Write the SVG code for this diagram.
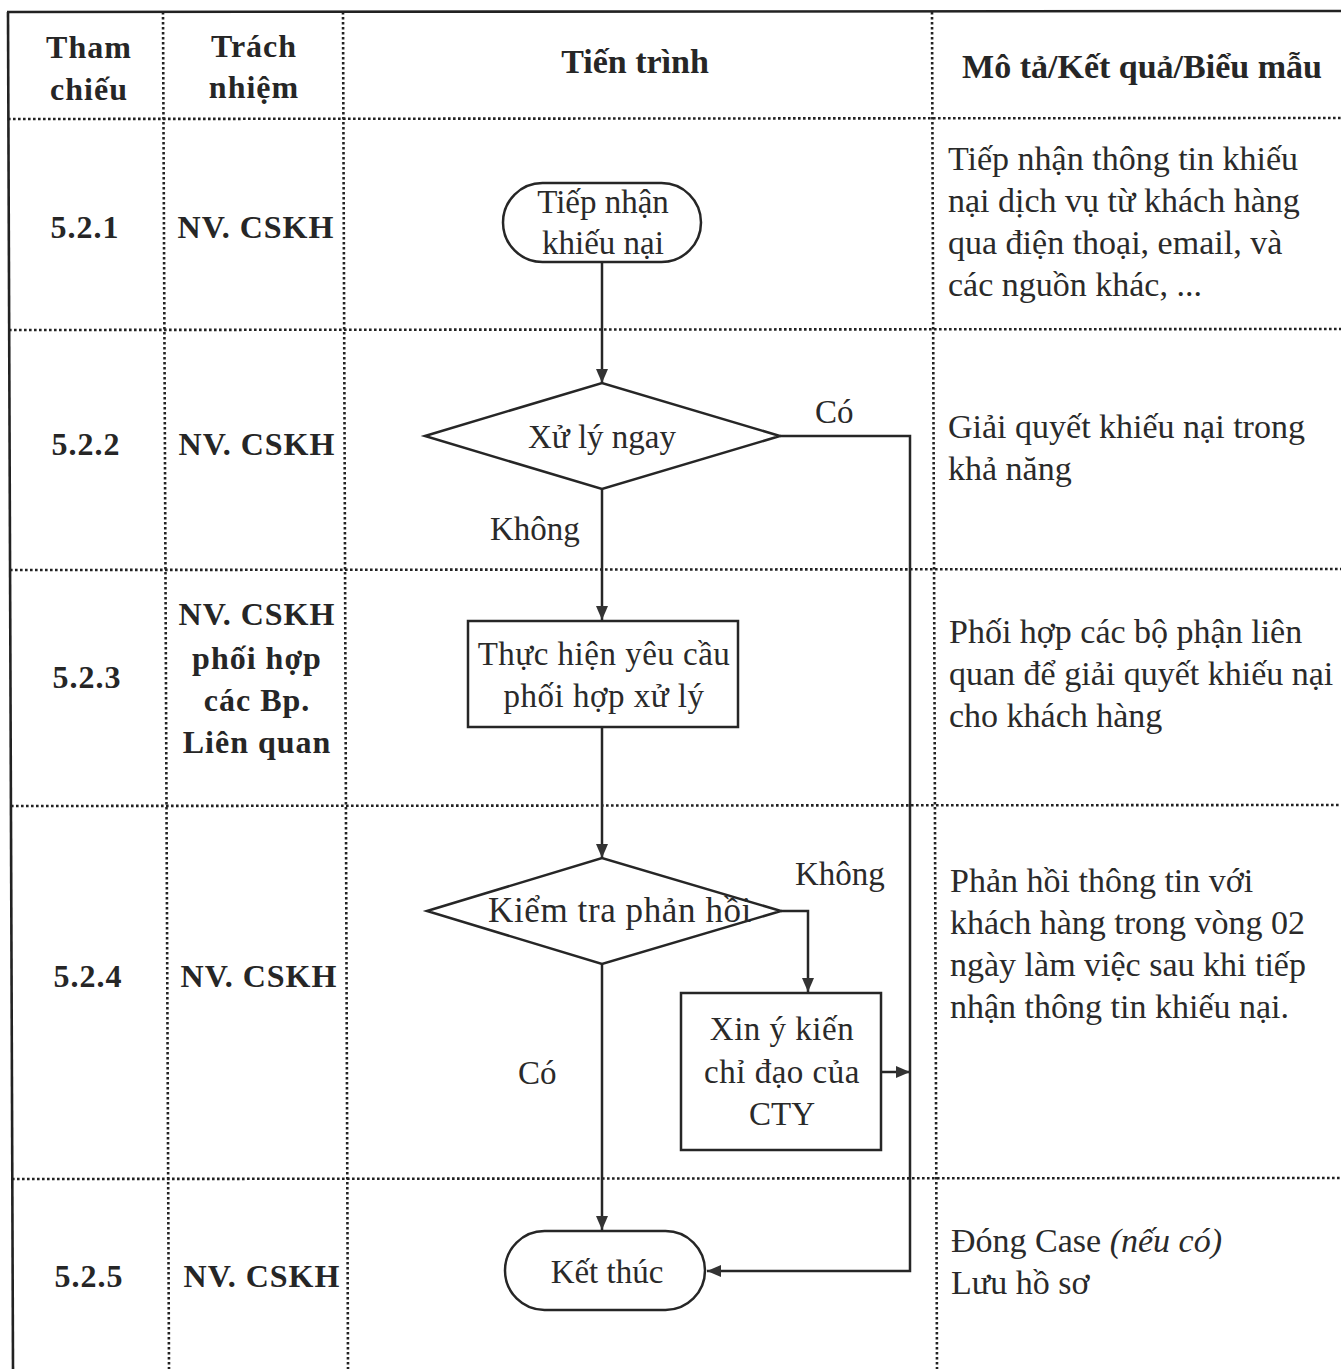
<svg xmlns="http://www.w3.org/2000/svg" width="1341" height="1369" viewBox="0 0 1341 1369">
<style>
.grid{stroke:#222;stroke-width:2.6;stroke-dasharray:2.6 2.4;fill:none}
.solid{stroke:#222;stroke-width:2.6;fill:none}
.b{font-family:"Liberation Serif","Times New Roman",serif;font-weight:bold;font-size:32px;fill:#262626;letter-spacing:1px}
.h{font-family:"Liberation Serif","Times New Roman",serif;font-weight:bold;font-size:34px;fill:#262626}
.t{font-family:"Liberation Serif","Times New Roman",serif;font-size:34px;fill:#2a2a2a}
.f{font-family:"Liberation Serif","Times New Roman",serif;font-size:33px;fill:#2a2a2a}
.node{fill:#fff;stroke:#262626;stroke-width:2.5}
.edge{fill:none;stroke:#262626;stroke-width:2.5}
.mid{text-anchor:middle}
</style>
<defs>
<marker id="arr" viewBox="0 0 14 12" refX="14" refY="6" markerWidth="14" markerHeight="12" markerUnits="userSpaceOnUse" orient="auto">
<path d="M0,0 L14,6 L0,12 Z" fill="#333"/>
</marker>
</defs>
<rect width="1341" height="1369" fill="#fff"/>

<g id="table">
<line class="solid" x1="7" y1="12" x2="1341" y2="11"/>
<line class="solid" x1="8" y1="12" x2="13" y2="1369"/>
<line class="grid" x1="163" y1="12" x2="169" y2="1369"/>
<line class="grid" x1="343" y1="12" x2="348" y2="1369"/>
<line class="grid" x1="932" y1="12" x2="937" y2="1369"/>
<line class="grid" x1="8" y1="119" x2="1341" y2="118"/>
<line class="grid" x1="9" y1="330" x2="1341" y2="329"/>
<line class="grid" x1="10" y1="570" x2="1341" y2="569"/>
<line class="grid" x1="11" y1="806" x2="1341" y2="805"/>
<line class="grid" x1="12" y1="1179" x2="1341" y2="1178"/>
</g>

<g id="headers">
<text class="b mid" x="89" y="58">Tham</text>
<text class="b mid" x="89" y="100">chiếu</text>
<text class="b mid" x="254" y="57">Trách</text>
<text class="b mid" x="254" y="98">nhiệm</text>
<text class="h mid" x="635" y="73">Tiến trình</text>
<text class="h mid" x="1142" y="78">Mô tả/Kết quả/Biểu mẫu</text>
</g>

<g id="refs">
<text class="b mid" x="85" y="238">5.2.1</text>
<text class="b mid" x="256" y="238">NV. CSKH</text>
<text class="b mid" x="86" y="455">5.2.2</text>
<text class="b mid" x="257" y="455">NV. CSKH</text>
<text class="b mid" x="87" y="688">5.2.3</text>
<text class="b mid" x="257" y="625">NV. CSKH</text>
<text class="b mid" x="257" y="669">phối hợp</text>
<text class="b mid" x="257" y="711">các Bp.</text>
<text class="b mid" x="257" y="753">Liên quan</text>
<text class="b mid" x="88" y="987">5.2.4</text>
<text class="b mid" x="259" y="987">NV. CSKH</text>
<text class="b mid" x="89" y="1287">5.2.5</text>
<text class="b mid" x="262" y="1287">NV. CSKH</text>
</g>

<g id="descriptions">
<text class="t" x="948" y="170">Tiếp nhận thông tin khiếu</text>
<text class="t" x="948" y="212">nại dịch vụ từ khách hàng</text>
<text class="t" x="948" y="254">qua điện thoại, email, và</text>
<text class="t" x="948" y="296">các nguồn khác, ...</text>
<text class="t" x="948" y="438">Giải quyết khiếu nại trong</text>
<text class="t" x="948" y="480">khả năng</text>
<text class="t" x="949" y="643">Phối hợp các bộ phận liên</text>
<text class="t" x="949" y="685">quan để giải quyết khiếu nại</text>
<text class="t" x="949" y="727">cho khách hàng</text>
<text class="t" x="950" y="892">Phản hồi thông tin với</text>
<text class="t" x="950" y="934">khách hàng trong vòng 02</text>
<text class="t" x="950" y="976">ngày làm việc sau khi tiếp</text>
<text class="t" x="950" y="1018">nhận thông tin khiếu nại.</text>
<text class="t" x="951" y="1252">Đóng Case <tspan font-style="italic">(nếu có)</tspan></text>
<text class="t" x="951" y="1294">Lưu hồ sơ</text>
</g>

<g id="connectors">
<line class="edge" x1="602" y1="263" x2="602" y2="383" marker-end="url(#arr)"/>
<polyline class="edge" points="780,436 910,436 910,1271 707,1271" marker-end="url(#arr)"/>
<line class="edge" x1="602" y1="489" x2="602" y2="620" marker-end="url(#arr)"/>
<line class="edge" x1="602" y1="727" x2="602" y2="858" marker-end="url(#arr)"/>
<polyline class="edge" points="781,911 808,911 808,992" marker-end="url(#arr)"/>
<line class="edge" x1="881" y1="1072" x2="910" y2="1072" marker-end="url(#arr)"/>
<line class="edge" x1="602" y1="964" x2="602" y2="1230" marker-end="url(#arr)"/>
<text class="f" x="815" y="423">Có</text>
<text class="f" x="490" y="540">Không</text>
<text class="f" x="795" y="885">Không</text>
<text class="f" x="518" y="1084">Có</text>
</g>

<g id="n1">
<rect class="node" x="503" y="183" width="198" height="79" rx="39.5"/>
<text class="f mid" x="603" y="213">Tiếp nhận</text>
<text class="f mid" x="603" y="254">khiếu nại</text>
</g>
<g id="n2">
<polygon class="node" points="425,436 602,383 780,436 602,489"/>
<text class="f mid" x="602" y="448">Xử lý ngay</text>
</g>
<g id="n3">
<rect class="node" x="468" y="621" width="270" height="106"/>
<text class="f mid" x="604" y="665" letter-spacing="0.5">Thực hiện yêu cầu</text>
<text class="f mid" x="604" y="707" letter-spacing="0.5">phối hợp xử lý</text>
</g>
<g id="n4">
<polygon class="node" points="427,911 602,858 781,911 602,964"/>
<text class="f mid" x="620" y="922" style="font-size:35px" letter-spacing="0.6">Kiểm tra phản hồi</text>
</g>
<g id="n5">
<rect class="node" x="681" y="993" width="200" height="157"/>
<text class="f mid" x="782" y="1040" letter-spacing="0.5">Xin ý kiến</text>
<text class="f mid" x="782" y="1083" letter-spacing="0.5">chỉ đạo của</text>
<text class="f mid" x="782" y="1125">CTY</text>
</g>
<g id="n6">
<rect class="node" x="505" y="1231" width="200" height="79" rx="39.5"/>
<text class="f mid" x="607" y="1283">Kết thúc</text>
</g>
</svg>
